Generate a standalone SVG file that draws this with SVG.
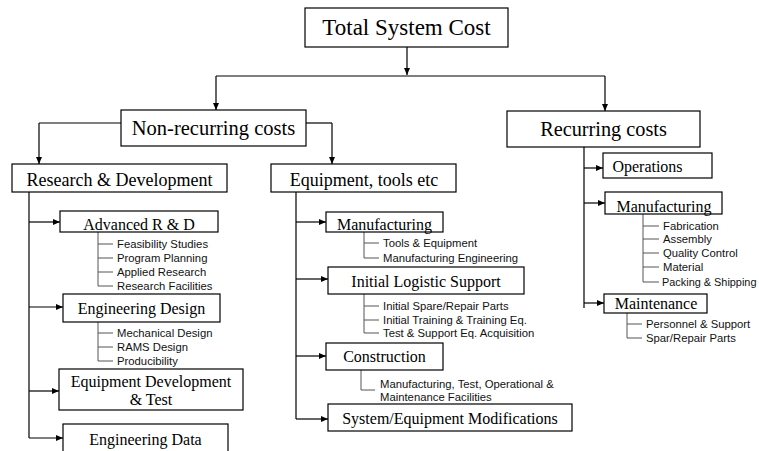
<svg xmlns="http://www.w3.org/2000/svg" width="759" height="451" viewBox="0 0 759 451">
<defs>
<marker id="ah" markerWidth="8" markerHeight="8" refX="7" refY="4" orient="auto" markerUnits="userSpaceOnUse">
<path d="M0,1 L7,4 L0,7 Z" fill="#000"/>
</marker>
<style>
.box{fill:#fff;stroke:#000;stroke-width:1.2}
.t{font-family:"Liberation Serif","Times New Roman",serif;fill:#000;text-anchor:middle}
.s{font-family:"Liberation Sans",Arial,sans-serif;font-size:11.3px;fill:#111}
.c{fill:none;stroke:#000;stroke-width:1.2}
.a{fill:none;stroke:#000;stroke-width:1.2;marker-end:url(#ah)}
.l{fill:none;stroke:#555;stroke-width:1}
</style>
</defs>
<rect width="759" height="451" fill="#fff"/>
<g id="connectors">
<path class="a" d="M407,47 V75"/>
<path class="c" d="M216,76 H605"/>
<path class="a" d="M216,76 V110"/>
<path class="a" d="M605,76 V111"/>
<path class="c" d="M121,123 H39"/>
<path class="a" d="M39,123 V164"/>
<path class="c" d="M306,123 H332"/>
<path class="a" d="M332,123 V164"/>
<path class="c" d="M29,192 V438"/>
<path class="a" d="M29,222 H60"/>
<path class="a" d="M29,307 H63"/>
<path class="a" d="M29,391 H59"/>
<path class="a" d="M29,438 H63"/>
<path class="c" d="M296,192 V419"/>
<path class="a" d="M296,222 H326"/>
<path class="a" d="M296,279 H328"/>
<path class="a" d="M296,356 H326"/>
<path class="a" d="M296,419 H328"/>
<path class="c" d="M584,147 V308"/>
<path class="a" d="M584,168 H603"/>
<path class="a" d="M584,203 H605"/>
<path class="a" d="M584,303 H604"/>
<path class="l" d="M98,232 V286 M98,244 H113 M98,258 H113 M98,272 H113 M98,286 H113"/>
<path class="l" d="M98,322 V361 M98,333 H113 M98,347 H113 M98,361 H113"/>
<path class="l" d="M364,232 V258 M364,243 H379 M364,258 H379"/>
<path class="l" d="M364,294 V333 M364,306 H379 M364,320 H379 M364,333 H379"/>
<path class="l" d="M361,370 V390 H375"/>
<path class="l" d="M643,214 V282 M643,226 H659 M643,239 H659 M643,253 H659 M643,267 H659 M643,282 H659"/>
<path class="l" d="M627,313 V338 M627,324 H642 M627,338 H642"/>
</g>
<g id="total"><rect class="box" x="305" y="8" width="203" height="39"/><text class="t" x="406.5" y="35" font-size="23">Total System Cost</text></g>
<g id="nonrecurring"><rect class="box" x="121" y="110" width="185" height="36"/><text class="t" x="213.5" y="135" font-size="20.5">Non-recurring costs</text></g>
<g id="recurring"><rect class="box" x="507" y="111" width="193" height="36"/><text class="t" x="603.5" y="136" font-size="20.3">Recurring costs</text></g>
<g id="rd"><rect class="box" x="12" y="164" width="215" height="28"/><text class="t" x="119.5" y="186" font-size="18">Research &amp; Development</text></g>
<g id="equipment"><rect class="box" x="271" y="164" width="185" height="28"/><text class="t" x="364" y="186" font-size="18">Equipment, tools etc</text></g>
<g id="advanced"><rect class="box" x="60" y="211" width="158" height="21"/><text class="t" x="139" y="230" font-size="16">Advanced R &amp; D</text>
<text class="s" x="117" y="248">Feasibility Studies</text><text class="s" x="117" y="262">Program Planning</text><text class="s" x="117" y="276">Applied Research</text><text class="s" x="117" y="290">Research Facilities</text></g>
<g id="engdesign"><rect class="box" x="63" y="294" width="157" height="28"/><text class="t" x="141.5" y="314" font-size="16">Engineering Design</text>
<text class="s" x="117" y="337">Mechanical Design</text><text class="s" x="117" y="351">RAMS Design</text><text class="s" x="117" y="365">Producibility</text></g>
<g id="eqdev"><rect class="box" x="59" y="369" width="184" height="41"/><text class="t" x="151" y="387" font-size="16">Equipment Development</text><text class="t" x="151" y="405" font-size="16">&amp; Test</text></g>
<g id="engdata"><rect class="box" x="63" y="424" width="165" height="36"/><text class="t" x="145.5" y="445" font-size="16">Engineering Data</text></g>
<g id="manufacturing1"><rect class="box" x="326" y="212" width="117" height="20"/><text class="t" x="384.5" y="230" font-size="16">Manufacturing</text>
<text class="s" x="383" y="247">Tools &amp; Equipment</text><text class="s" x="383" y="262">Manufacturing Engineering</text></g>
<g id="ils"><rect class="box" x="328" y="267" width="196" height="27"/><text class="t" x="426" y="287" font-size="16">Initial Logistic Support</text>
<text class="s" x="383" y="310">Initial Spare/Repair Parts</text><text class="s" x="383" y="324">Initial Training &amp; Training Eq.</text><text class="s" x="383" y="337">Test &amp; Support Eq. Acquisition</text></g>
<g id="construction"><rect class="box" x="326" y="343" width="117" height="27"/><text class="t" x="384.5" y="362" font-size="16">Construction</text>
<text class="s" x="380" y="388">Manufacturing, Test, Operational &amp;</text><text class="s" x="380" y="401">Maintenance Facilities</text></g>
<g id="modifications"><rect class="box" x="328" y="404" width="244" height="27"/><text class="t" x="450" y="424" font-size="16">System/Equipment Modifications</text></g>
<g id="operations"><rect class="box" x="603" y="153" width="109" height="25"/><text class="t" x="647.5" y="172" font-size="16">Operations</text></g>
<g id="manufacturing2"><rect class="box" x="605" y="192" width="117" height="22"/><text class="t" x="664" y="212" font-size="16">Manufacturing</text>
<text class="s" x="663" y="230">Fabrication</text><text class="s" x="663" y="243">Assembly</text><text class="s" x="663" y="257">Quality Control</text><text class="s" x="663" y="271">Material</text><text class="s" x="662" y="286" style="font-size:10.9px">Packing &amp; Shipping</text></g>
<g id="maintenance"><rect class="box" x="604" y="294" width="103" height="19"/><text class="t" x="656" y="309" font-size="16">Maintenance</text>
<text class="s" x="646" y="328">Personnel &amp; Support</text><text class="s" x="646" y="342">Spar/Repair Parts</text></g>
</svg>
